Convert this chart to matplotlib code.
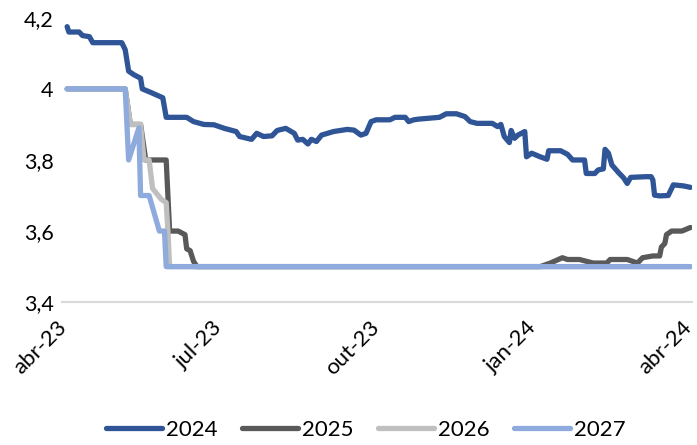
import matplotlib
matplotlib.use("Agg")
import matplotlib.pyplot as plt
import pandas as pd
from matplotlib.ticker import FuncFormatter

plt.rcParams["font.family"] = ["Lato", "DejaVu Sans"]

# --- data ------------------------------------------------------------------
dates_2024 = [
    "2023-04-03", "2023-04-04", "2023-04-10", "2023-04-12", "2023-04-16", "2023-04-18",
    "2023-05-05", "2023-05-07", "2023-05-09", "2023-05-12", "2023-05-16", "2023-05-17",
    "2023-05-22", "2023-05-29", "2023-05-31", "2023-06-12", "2023-06-16", "2023-06-22",
    "2023-06-28", "2023-07-04", "2023-07-11", "2023-07-13", "2023-07-20", "2023-07-23",
    "2023-07-27", "2023-08-01", "2023-08-04", "2023-08-09", "2023-08-14", "2023-08-16",
    "2023-08-19", "2023-08-22", "2023-08-24", "2023-08-27", "2023-08-30", "2023-09-06",
    "2023-09-14", "2023-09-18", "2023-09-22", "2023-09-25", "2023-09-28", "2023-10-01",
    "2023-10-09", "2023-10-12", "2023-10-18", "2023-10-20", "2023-10-23", "2023-10-26",
    "2023-11-07", "2023-11-11", "2023-11-17", "2023-11-22", "2023-11-25", "2023-11-29",
    "2023-12-08", "2023-12-11", "2023-12-13", "2023-12-15", "2023-12-18", "2023-12-19",
    "2023-12-21", "2023-12-23", "2023-12-27", "2023-12-28", "2023-12-31", "2024-01-05",
    "2024-01-09", "2024-01-10", "2024-01-17", "2024-01-21", "2024-01-24", "2024-01-31",
    "2024-02-01", "2024-02-06", "2024-02-08", "2024-02-11", "2024-02-12", "2024-02-14",
    "2024-02-16", "2024-02-20", "2024-02-23", "2024-02-25", "2024-02-27", "2024-03-07",
    "2024-03-10", "2024-03-11", "2024-03-12", "2024-03-15", "2024-03-20", "2024-03-23",
    "2024-03-29", "2024-04-02",
]
values_2024 = [
    4.175, 4.16, 4.16, 4.15, 4.147, 4.13,
    4.13, 4.11, 4.05, 4.04, 4.03, 4.00,
    3.99, 3.975, 3.92, 3.92, 3.908, 3.90,
    3.899, 3.889, 3.88, 3.866, 3.858, 3.875,
    3.866, 3.868, 3.883, 3.889, 3.875, 3.856,
    3.858, 3.845, 3.858, 3.852, 3.87, 3.88,
    3.886, 3.884, 3.87, 3.875, 3.908, 3.913,
    3.913, 3.92, 3.92, 3.908, 3.913, 3.915,
    3.92, 3.93, 3.93, 3.922, 3.908, 3.903,
    3.903, 3.894, 3.90, 3.866, 3.849, 3.883,
    3.861, 3.87, 3.88, 3.809, 3.819, 3.809,
    3.802, 3.826, 3.826, 3.816, 3.80, 3.80,
    3.762, 3.762, 3.772, 3.775, 3.83, 3.819,
    3.786, 3.764, 3.749, 3.734, 3.751, 3.753,
    3.753, 3.744, 3.701, 3.699, 3.70, 3.73,
    3.727, 3.723,
]

dates_2025 = [
    "2023-04-03", "2023-05-07", "2023-05-10", "2023-05-16", "2023-05-19", "2023-05-31",
    "2023-06-02", "2023-06-07", "2023-06-11", "2023-06-12", "2023-06-14", "2023-06-16",
    "2023-06-18", "2024-01-05", "2024-01-11", "2024-01-18", "2024-01-21", "2024-01-28",
    "2024-02-05", "2024-02-13", "2024-02-15", "2024-02-25", "2024-03-02", "2024-03-05",
    "2024-03-11", "2024-03-15", "2024-03-16", "2024-03-18", "2024-03-19", "2024-03-22",
    "2024-03-28", "2024-04-02",
]
values_2025 = [
    4.0, 4.0, 3.90, 3.90, 3.80, 3.80,
    3.60, 3.60, 3.59, 3.55, 3.545, 3.515,
    3.50, 3.50, 3.51, 3.525, 3.52, 3.52,
    3.51, 3.51, 3.52, 3.52, 3.51, 3.525,
    3.53, 3.53, 3.555, 3.565, 3.59, 3.60,
    3.60, 3.61,
]

dates_2026 = [
    "2023-04-03", "2023-05-07", "2023-05-10", "2023-05-16", "2023-05-18", "2023-05-21",
    "2023-05-23", "2023-05-28", "2023-05-31", "2023-06-01", "2023-06-02", "2024-04-02",
]
values_2026 = [4.0, 4.0, 3.90, 3.90, 3.80, 3.80, 3.72, 3.69, 3.68, 3.60, 3.50, 3.50]

dates_2027 = [
    "2023-04-03", "2023-05-07", "2023-05-09", "2023-05-15", "2023-05-16", "2023-05-21",
    "2023-05-24", "2023-05-27", "2023-05-30", "2023-05-31", "2024-04-02",
]
values_2027 = [4.0, 4.0, 3.80, 3.89, 3.70, 3.70, 3.65, 3.60, 3.60, 3.50, 3.50]

tick_dates = ["2023-04-01", "2023-07-01", "2023-10-01", "2024-01-01", "2024-04-01"]
tick_labels = ["abr-23", "jul-23", "out-23", "jan-24", "abr-24"]

series = [
    ("2024", dates_2024, values_2024, "#2F5597"),
    ("2025", dates_2025, values_2025, "#595959"),
    ("2026", dates_2026, values_2026, "#BFBFBF"),
    ("2027", dates_2027, values_2027, "#8FAADC"),
]

# --- figure ----------------------------------------------------------------
fig = plt.figure(figsize=(6.97, 4.45), dpi=100)
ax = fig.add_axes([0.089, 0.321, 0.904, 0.639])

for name, d, v, color in series:
    ax.plot(pd.to_datetime(d), v, color=color, linewidth=3.8, label=name,
            solid_capstyle="round", solid_joinstyle="round")

ax.set_xlim(pd.Timestamp("2023-03-31"), pd.Timestamp("2024-04-03"))
ax.set_ylim(3.4, 4.2)
ax.set_yticks([3.4, 3.6, 3.8, 4.0, 4.2])
ax.yaxis.set_major_formatter(FuncFormatter(lambda v, _: f"{v:g}".replace(".", ",")))
ax.set_xticks(pd.to_datetime(tick_dates))
ax.set_xticklabels(tick_labels, rotation=45, ha="right", va="center",
                   rotation_mode="anchor")

for side in ("top", "right", "left"):
    ax.spines[side].set_visible(False)
ax.spines["bottom"].set_color("#D9D9D9")
ax.spines["bottom"].set_linewidth(1.5)
ax.tick_params(axis="y", length=0, labelsize=15.5, pad=6)
ax.tick_params(axis="x", length=0, labelsize=16, pad=16)

fig.legend(loc="center", bbox_to_anchor=(0.525, 0.034), ncol=4, frameon=False,
           fontsize=16, handlelength=2.5, handletextpad=0.2, columnspacing=1.1)

fig.savefig("out.png", dpi=100)
